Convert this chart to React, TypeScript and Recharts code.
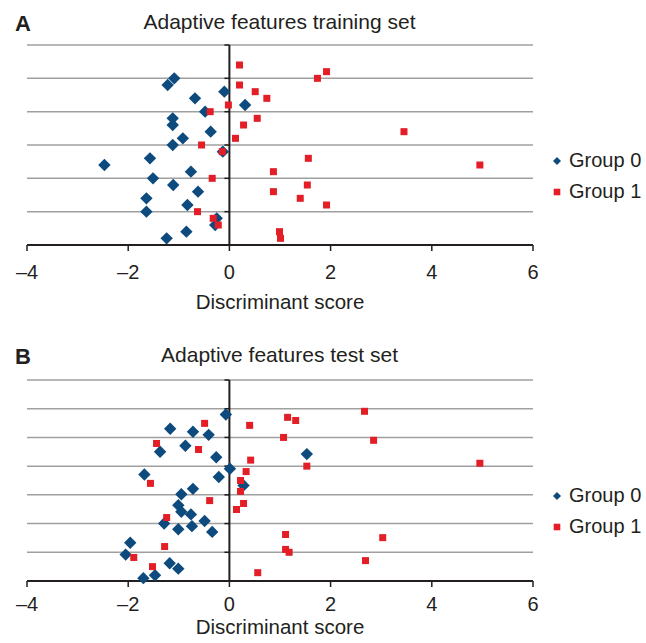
import React from 'react';
import {
  ScatterChart,
  Scatter,
  XAxis,
  YAxis,
  ReferenceLine,
  Legend,
} from 'recharts';

// ---------- data ----------
const xTicks = [-4, -2, 0, 2, 4, 6];
const yTicksTrain = [0, 1, 2, 3, 4, 5, 6];
const yTicksTest = [0, 1, 2, 3, 4, 5, 6, 7];
const groupNames = ['Group 0', 'Group 1'];
const panelLetters = ['A', 'B'];
const panelTitles = ['Adaptive features training set', 'Adaptive features test set'];
const axisTitle = 'Discriminant score';

// Training set, Group 0 (blue diamonds)
const trainG0X = [-1.09, -1.22, -0.10, -0.68, 0.31, -0.48, -1.12, -1.12, -0.37, -0.92, -1.12, -0.13, -1.57, -2.47, -0.76, -1.51, -1.11, -0.62, -1.64, -0.83, -1.64, -0.25, -0.28, -0.85, -1.24];
const trainG0Y = [5.0, 4.8, 4.6, 4.4, 4.2, 4.0, 3.8, 3.6, 3.4, 3.2, 3.0, 2.8, 2.6, 2.4, 2.2, 2.0, 1.8, 1.6, 1.4, 1.2, 1.0, 0.8, 0.6, 0.4, 0.2];

// Training set, Group 1 (red squares)
const trainG1X = [0.20, 1.92, 1.74, 0.20, 0.51, 0.74, -0.02, -0.38, 0.55, 0.28, 3.45, 0.12, -0.55, -0.14, 1.56, 4.95, 0.87, -0.34, 1.54, 0.87, 1.40, 1.92, -0.63, -0.32, -0.22, 0.99, 1.01];
const trainG1Y = [5.4, 5.2, 5.0, 4.8, 4.6, 4.4, 4.2, 4.0, 3.8, 3.6, 3.4, 3.2, 3.0, 2.8, 2.6, 2.4, 2.2, 2.0, 1.8, 1.6, 1.4, 1.2, 1.0, 0.8, 0.6, 0.4, 0.2];

// Test set, Group 0 (blue diamonds)
const testG0X = [-0.07, -1.17, -0.72, -0.41, -0.87, -1.37, -0.26, 1.53, 0.01, -1.68, -0.21, 0.28, -0.72, -0.95, -1.01, -0.95, -0.76, -0.49, -1.29, -1.01, -0.74, -0.34, -1.96, -2.05, -1.18, -1.01, -1.47, -1.70];
const testG0Y = [5.80, 5.30, 5.20, 5.09, 4.71, 4.50, 4.31, 4.42, 3.91, 3.71, 3.62, 3.33, 3.21, 3.02, 2.64, 2.41, 2.32, 2.09, 2.00, 1.80, 1.91, 1.71, 1.33, 0.92, 0.62, 0.43, 0.20, 0.10];

// Test set, Group 1 (red squares)
const testG1X = [2.67, 1.15, 1.31, -0.49, 0.40, 1.07, 2.85, -1.44, -0.61, 0.42, 4.95, 1.53, 0.33, 0.22, -1.56, 0.22, -0.39, 0.28, 0.14, -1.24, 1.11, 3.03, -1.28, 1.11, 1.18, -1.89, 2.69, -1.52, 0.56];
const testG1Y = [5.91, 5.70, 5.59, 5.49, 5.42, 5.00, 4.90, 4.79, 4.58, 4.21, 4.10, 4.00, 3.81, 3.50, 3.40, 3.12, 2.80, 2.70, 2.49, 2.21, 1.62, 1.51, 1.20, 1.10, 1.00, 0.82, 0.71, 0.50, 0.29];

const zip = (xs: number[], ys: number[]) => xs.map((x, i) => ({ x, y: ys[i] }));

// ---------- styles ----------
const FONT = '"Liberation Sans", Arial, Helvetica, sans-serif';
const BLUE = '#0d4b7e';
const RED = '#e31e26';
const INK = '#231f20';
const GRID = '#a0a0a0';

const Diamond = (props: any) => {
  const { cx, cy } = props;
  if (cx == null || cy == null) return null;
  const r = 6.2;
  return (
    <polygon
      points={`${cx},${cy - r} ${cx + r},${cy} ${cx},${cy + r} ${cx - r},${cy}`}
      fill={BLUE}
    />
  );
};

const Square = (props: any) => {
  const { cx, cy } = props;
  if (cx == null || cy == null) return null;
  const s = 7;
  return <rect x={cx - s / 2} y={cy - s / 2} width={s} height={s} fill={RED} />;
};

const ZeroAxis = (props: any) => {
  const { x1, y1, x2, y2, bands } = props;
  const ticks = [];
  for (let i = 0; i <= bands; i++) {
    const y = y1 + ((y2 - y1) * i) / bands;
    ticks.push(<line key={i} x1={x1 - 5} x2={x1} y1={y} y2={y} stroke={INK} strokeWidth={1.5} />);
  }
  return (
    <g>
      <line x1={x1} y1={y1} x2={x2} y2={y2} stroke={INK} strokeWidth={2} />
      {ticks}
    </g>
  );
};

const LegendContent = () => (
  <div style={{ fontFamily: FONT, fontSize: 20, color: INK }}>
    {groupNames.map((name, i) => (
      <div
        key={name}
        style={{ display: 'flex', alignItems: 'center', height: 31, whiteSpace: 'nowrap' }}
      >
        <svg width={18} height={14} style={{ marginRight: 3, display: 'block' }}>
          {i === 0 ? (
            <polygon points="9,3 13,7 9,11 5,7" fill={BLUE} />
          ) : (
            <rect x={5.7} y={3.7} width={6.6} height={6.6} fill={RED} />
          )}
        </svg>
        <span>{name}</span>
      </div>
    ))}
  </div>
);

const fmt = (v: number) => String(v).replace('-', '\u2013');

type PanelProps = {
  top: number;
  height: number;
  marginBottom: number;
  axisHeight: number;
  tickMargin: number;
  labelDy: number;
  yTicks: number[];
  g0: { x: number; y: number }[];
  g1: { x: number; y: number }[];
};

function Panel({ top, height, marginBottom, axisHeight, tickMargin, labelDy, yTicks, g0, g1 }: PanelProps) {
  const yMax = yTicks[yTicks.length - 1];
  const renderLabel = (p: any) => {
    const vb = p && p.viewBox ? p.viewBox : { x: 27, y: 245, width: 506 };
    return (
      <text
        x={vb.x + vb.width / 2}
        y={vb.y + labelDy}
        textAnchor="middle"
        fill={INK}
        fontSize={20.5}
        fontFamily={FONT}
      >
        {axisTitle}
      </text>
    );
  };
  return (
    <div style={{ position: 'absolute', left: 0, top, width: 646, height }}>
      <ScatterChart
        width={646}
        height={height}
        margin={{ top: 45, right: 113, bottom: marginBottom, left: 27 }}
      >
        <XAxis
          type="number"
          dataKey="x"
          domain={[-4, 6]}
          ticks={xTicks}
          interval={0}
          allowDataOverflow
          height={axisHeight}
          tickSize={6}
          tickMargin={tickMargin}
          axisLine={{ stroke: INK, strokeWidth: 2 }}
          tickLine={{ stroke: INK, strokeWidth: 1.5 }}
          tick={{ fill: INK, fontSize: 20, fontFamily: FONT }}
          tickFormatter={fmt}
          label={renderLabel}
        />
        <YAxis
          type="number"
          dataKey="y"
          domain={[0, yMax]}
          ticks={yTicks}
          interval={0}
          width={0}
          axisLine={false}
          tickLine={false}
          tick={false}
        />
        {yTicks
          .filter((t) => t > 0)
          .map((t) => (
            <ReferenceLine key={`g${t}`} y={t} stroke={GRID} strokeWidth={1.5} />
          ))}
        <ReferenceLine
          x={0}
          stroke={INK}
          strokeWidth={2}
          shape={(p: any) => <ZeroAxis {...p} bands={yTicks.length - 1} />}
        />
        <Scatter name={groupNames[0]} data={g0} fill={BLUE} shape={Diamond} isAnimationActive={false} />
        <Scatter name={groupNames[1]} data={g1} fill={RED} shape={Square} isAnimationActive={false} />
        <Legend
          layout="horizontal"
          verticalAlign="middle"
          align="center"
          content={LegendContent}
          wrapperStyle={{ left: 548, top: 145, width: 98, height: 62 }}
        />
      </ScatterChart>
    </div>
  );
}

export default function App() {
  return (
    <div
      style={{
        position: 'absolute',
        left: 0,
        top: 0,
        width: 646,
        height: 643,
        background: '#ffffff',
        overflow: 'hidden',
      }}
    >
      <Panel
        top={0}
        height={320}
        marginBottom={15}
        axisHeight={60}
        tickMargin={14}
        labelDy={64}
        yTicks={yTicksTrain}
        g0={zip(trainG0X, trainG0Y)}
        g1={zip(trainG1X, trainG1Y)}
      />
      <Panel
        top={335}
        height={308}
        marginBottom={12}
        axisHeight={50}
        tickMargin={10}
        labelDy={53}
        yTicks={yTicksTest}
        g0={zip(testG0X, testG0Y)}
        g1={zip(testG1X, testG1Y)}
      />
      <svg
        width={646}
        height={643}
        style={{ position: 'absolute', left: 0, top: 0, pointerEvents: 'none' }}
      >
        <text x={15} y={31} fontFamily={FONT} fontWeight="bold" fontSize={22} fill={INK}>
          {panelLetters[0]}
        </text>
        <text x={279.5} y={28.5} textAnchor="middle" fontFamily={FONT} fontSize={21} fill={INK}>
          {panelTitles[0]}
        </text>
        <text x={15} y={363.5} fontFamily={FONT} fontWeight="bold" fontSize={22} fill={INK}>
          {panelLetters[1]}
        </text>
        <text x={279.5} y={362} textAnchor="middle" fontFamily={FONT} fontSize={21} fill={INK}>
          {panelTitles[1]}
        </text>
      </svg>
    </div>
  );
}
